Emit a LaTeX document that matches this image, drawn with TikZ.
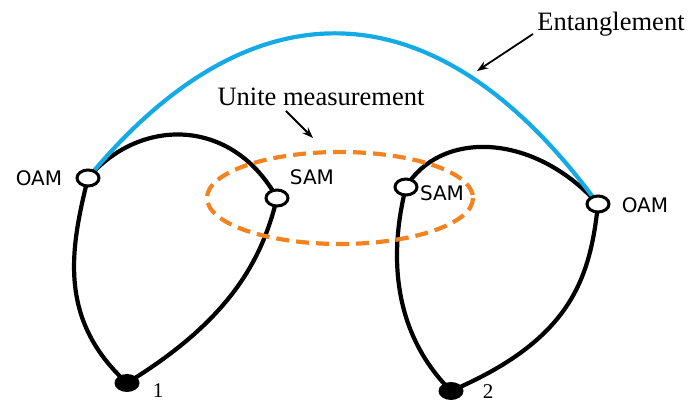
\documentclass[tikz,border=0pt]{standalone}
\usepackage{fontspec}
\setmainfont{Liberation Serif}
\newfontfamily\samfont{DejaVu Sans}
\usetikzlibrary{arrows.meta,shapes.geometric}
\definecolor{entblue}{RGB}{20,170,230}
\definecolor{measorange}{RGB}{245,130,32}
\begin{document}
\begin{tikzpicture}[x=1pt,y=-1pt,
  loop/.style={line width=4.2pt},
  port/.style={draw,line width=3pt,fill=white,ellipse,minimum width=22pt,minimum height=16pt,inner sep=0pt},
  photon/.style={fill=black,ellipse,minimum width=25pt,minimum height=18pt,inner sep=0pt},
  momlabel/.style={font=\samfont\fontsize{20}{22}\selectfont,inner sep=0pt},
  biglabel/.style={font=\fontsize{26.5}{28}\selectfont,inner sep=0pt},
  numlabel/.style={font=\fontsize{21}{22}\selectfont,inner sep=0pt},
  pointer/.style={line width=1.8pt,-{Stealth[length=11pt,width=8pt]}}]
\useasboundingbox (0,0) rectangle (689,403);
% nodes
\coordinate (oamL) at (88,178);
\coordinate (samL) at (277,198);
\coordinate (dotL) at (127,383);
\coordinate (samR) at (406,187);
\coordinate (oamR) at (598,204);
\coordinate (dotR) at (451,391);
% loops
\draw[loop] (oamL) .. controls (140,117) and (232,117) .. (samL);
\draw[loop] (oamL) .. controls (70,250) and (58,320) .. (dotL);
\draw[loop] (samL) .. controls (262,260) and (230,320) .. (dotL);
\draw[loop] (samR) .. controls (440,131) and (532,131) .. (oamR);
\draw[loop] (samR) .. controls (390,250) and (390,330) .. (dotR);
\draw[loop] (oamR) .. controls (590,280) and (570,340) .. (dotR);
% entanglement arc
\draw[line width=4.2pt,entblue] (oamL) .. controls (250,-19) and (436,-19) .. (oamR);
% unite measurement ellipse
\draw[line width=4.2pt,measorange,dash pattern=on 13pt off 7pt] (340,198) ellipse [x radius=133, y radius=46];
% ports
\node[port] (pOAML) at (oamL) {};
\node[port] (pSAML) at (samL) {};
\node[port] (pSAMR) at (samR) {};
\node[port] (pOAMR) at (oamR) {};
\node[photon] (pDotL) at (dotL) {};
\node[photon] (pDotR) at (dotR) {};
% labels
\node[momlabel] (tOAML) at (39,178) {OAM};
\node[momlabel] (tSAML) at (312,177) {SAM};
\node[momlabel] (tSAMR) at (442,193) {SAM};
\node[momlabel] (tOAMR) at (645,205) {OAM};
\node[numlabel,anchor=north] (t1) at (158,383) {1};
\node[numlabel,anchor=north] (t2) at (488,384) {2};
\node[biglabel] (tEnt) at (611,24) {Entanglement};
\node[biglabel] (tUM) at (321,97) {Unite measurement};
\coordinate (entTip) at (477,71);
\coordinate (umTip) at (313,138);
\draw[pointer] (533,34) -- (entTip);
\draw[pointer] (286,111) -- (umTip);
\end{tikzpicture}
\end{document}
